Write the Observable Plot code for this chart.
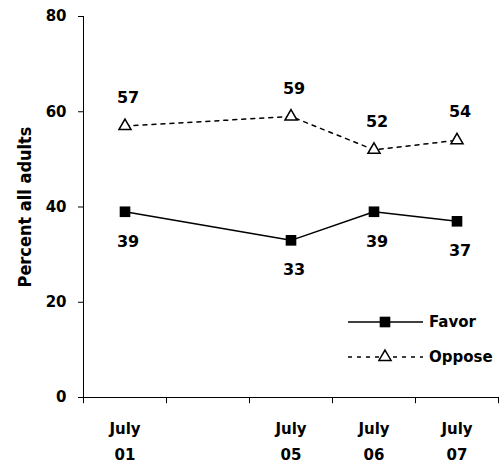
<!DOCTYPE html>
<html><head><meta charset="utf-8">
<script src="https://cdn.jsdelivr.net/npm/d3@7"></script>
<script src="https://cdn.jsdelivr.net/npm/@observablehq/plot@0.6"></script>
<style>body{margin:0;background:#fff} #chart{width:503px;height:463px}</style>
</head><body><div id="chart"></div>
<script>
// slots on the x axis (one empty slot between 01 and 05)
const slots = ["01", "gap", "05", "06", "07"];
const periods = ["01", "05", "06", "07"];
const favor = [39, 33, 39, 37];
const oppose = [57, 59, 52, 54];
const yTicks = [0, 20, 40, 60, 80];
const seriesNames = ["Favor", "Oppose"];
const yLabel = "Percent all adults";
const monthLabel = "July";

const fav = periods.map((p, i) => ({wave: p, value: favor[i]}));
const opp = periods.map((p, i) => ({wave: p, value: oppose[i]}));

const W = 503, H = 463, mL = 83, mR = 5, mT = 16, mB = 66;
const bw = (W - mL - mR) / slots.length;
const font = "'DejaVu Sans', sans-serif";

const plot = Plot.plot({
  width: W, height: H,
  marginLeft: mL, marginRight: mR, marginTop: mT, marginBottom: mB,
  style: {fontFamily: font, fontWeight: "bold", fontSize: "15px", color: "#000", background: "#fff", overflow: "visible"},
  x: {type: "band", domain: slots, padding: 0, axis: null},
  y: {domain: [0, 80], axis: null},
  marks: [
    Plot.frame({anchor: "left", stroke: "#000", strokeWidth: 1}),
    Plot.ruleY([0], {stroke: "#000", strokeWidth: 1}),
    Plot.axisY(yTicks, {tickSize: 5, tickPadding: 12, fontSize: 15, label: null}),
    Plot.text([yLabel], {frameAnchor: "left", textAnchor: "middle", rotate: -90, dx: -58, fontSize: 18, fontFamily: "'DejaVu Sans Condensed', 'DejaVu Sans', sans-serif"}),
    Plot.ruleX(slots, {x: d => d, dx: -bw / 2, y1: 0, y2: -1.3, stroke: "#000"}),
    Plot.ruleX([slots[slots.length - 1]], {x: d => d, dx: bw / 2, y1: 0, y2: -1.3, stroke: "#000"}),
    Plot.axisX(periods, {tickSize: 0, tickPadding: 18, tickFormat: d => `${monthLabel}\n${d}`, lineHeight: 1.75, fontSize: 15, label: null}),
    Plot.line(fav, {x: "wave", y: "value", stroke: "#000", strokeWidth: 1.5}),
    Plot.line(opp, {x: "wave", y: "value", stroke: "#000", strokeWidth: 1.5, strokeDasharray: "4,5"}),
    Plot.dot(fav, {x: "wave", y: "value", symbol: "square", r: 6, fill: "#000", stroke: "none"}),
    Plot.dot(opp, {x: "wave", y: "value", symbol: "triangle", r: 4.5, fill: "#fff", stroke: "#000", strokeWidth: 1.5}),
    Plot.text(fav, {x: "wave", y: "value", text: d => String(d.value), dy: 30, dx: 3, fontSize: 16}),
    Plot.text(opp, {x: "wave", y: "value", text: d => String(d.value), dy: -28, dx: 3, fontSize: 16})
  ]
});

// legend inside the plot area
const svg = d3.select(plot);
const lg = svg.append("g").attr("font-family", font).attr("font-weight", "bold").attr("font-size", 15).attr("text-anchor", "start");
const legendRows = [
  {name: seriesNames[0], y: 322, dash: null, sym: "square"},
  {name: seriesNames[1], y: 357, dash: "4,5", sym: "triangle"}
];
legendRows.forEach(r => {
  lg.append("line").attr("x1", 348).attr("x2", 423).attr("y1", r.y).attr("y2", r.y)
    .attr("stroke", "#000").attr("stroke-width", 1.5).attr("stroke-dasharray", r.dash);
  if (r.sym === "square") {
    lg.append("path").attr("d", d3.symbol(d3.symbolSquare, Math.PI * 36)()).attr("transform", `translate(385,${r.y})`).attr("fill", "#000");
  } else {
    lg.append("path").attr("d", d3.symbol(d3.symbolTriangle, Math.PI * 4.5 * 4.5)()).attr("transform", `translate(385,${r.y})`)
      .attr("fill", "#fff").attr("stroke", "#000").attr("stroke-width", 1.5);
  }
  lg.append("text").attr("x", 429).attr("y", r.y).attr("dy", "0.35em").attr("text-anchor", "start").text(r.name);
});

document.getElementById("chart").appendChild(plot);
</script>
</body></html>
